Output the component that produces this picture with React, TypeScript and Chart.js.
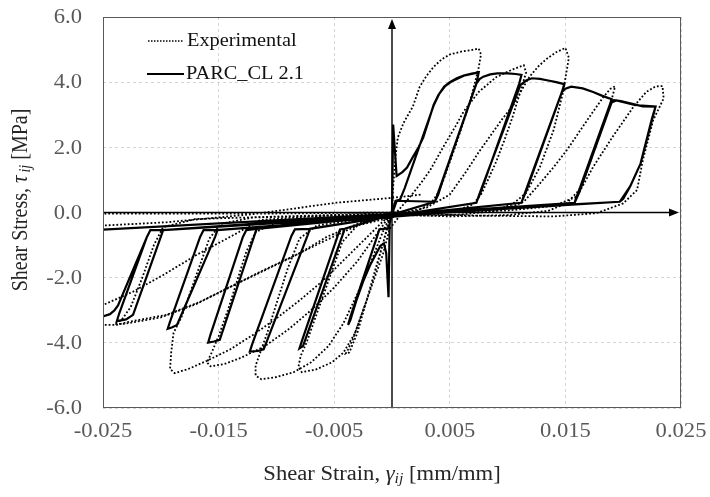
import React, { useEffect, useRef } from 'react';
import { Chart, registerables } from 'chart.js';

Chart.register(...registerables);

type Pt = [number, number];

// Axis ticks
const strainTicks = [-0.025, -0.015, -0.005, 0.005, 0.015, 0.025];
const stressTicks = [-6, -4, -2, 0, 2, 4, 6];
const seriesNames = ['Experimental', 'PARC_CL 2.1'];

// ---- PARC_CL 2.1 model response (strain, stress), one excursion pair per array ----
const modelCycle1: Pt[] = [
  [0, 0], [0.0001, 2.7], [0.0004, 1.12], [0.0009, 1.24], [0.0013, 1.38], [0.0018, 1.7], [0.0023, 2.0],
  [0.0027, 2.3], [0.0032, 2.85], [0.0036, 3.3], [0.004, 3.6], [0.0045, 3.86], [0.005, 4.0], [0.0056, 4.12],
  [0.0062, 4.2], [0.0069, 4.26], [0.0075, 4.3], [0.0073, 3.95], [0.0044, 1.0], [0.004, 0.55], [0.0037, 0.33],
  [0.0004, 0.36], [0.0001, 0.05], [-0.0002, -0.3], [-0.0003, -2.6], [-0.0005, -1.25], [-0.0007, -0.95],
  [-0.001, -1.02], [-0.0013, -1.22], [-0.0019, -1.62], [-0.0025, -2.12], [-0.0031, -2.72], [-0.0036, -3.3],
  [-0.0038, -3.45], [-0.0036, -3.2], [-0.0013, -0.75], [-0.0011, -0.52], [-0.0003, -0.48],
];
const modelCycle2: Pt[] = [
  [0.0003, 0.36], [0.0007, 0.4], [0.0011, 0.75], [0.0036, 3.28], [0.0041, 3.65], [0.0046, 3.88], [0.0052, 4.03],
  [0.0062, 4.2], [0.0075, 4.3], [0.0073, 3.95], [0.0044, 1.0], [0.004, 0.55], [0.0037, 0.33],
  [-0.0041, -0.5], [-0.0043, -0.72], [-0.0077, -4.1], [-0.008, -4.17], [-0.0078, -3.95], [-0.0047, -0.72],
  [-0.0045, -0.52], [-0.0041, -0.5],
];
const modelCycle3: Pt[] = [
  [0.0037, 0.33], [0.004, 0.62], [0.0073, 3.96], [0.0076, 4.1], [0.0079, 4.17], [0.0085, 4.24], [0.0091, 4.27],
  [0.01, 4.27], [0.0107, 4.25], [0.0112, 4.22], [0.011, 3.95], [0.0077, 0.65], [0.0074, 0.4], [0.0073, 0.3],
  [-0.0071, -0.5], [-0.0073, -0.7], [-0.0111, -4.2], [-0.0116, -4.25], [-0.0123, -4.27], [-0.0121, -4.05],
  [-0.0087, -0.72], [-0.0084, -0.52], [-0.0071, -0.5],
];
const modelCycle4: Pt[] = [
  [0.0073, 0.3], [0.0076, 0.6], [0.0111, 3.91], [0.0116, 4.05], [0.0121, 4.12], [0.0128, 4.1], [0.0134, 4.06],
  [0.0142, 4.0], [0.0149, 3.94], [0.0147, 3.7], [0.0116, 0.65], [0.0113, 0.4], [0.0112, 0.3],
  [-0.0117, -0.5], [-0.0119, -0.7], [-0.0149, -3.91], [-0.0154, -3.96], [-0.0159, -3.99], [-0.0157, -3.75],
  [-0.0129, -0.75], [-0.0126, -0.54], [-0.0117, -0.5],
];
const modelCycle5: Pt[] = [
  [0.0112, 0.3], [0.0115, 0.6], [0.0147, 3.7], [0.015, 3.8], [0.0155, 3.86], [0.0165, 3.81], [0.0174, 3.7],
  [0.0182, 3.58], [0.019, 3.48], [0.0188, 3.25], [0.0162, 0.7], [0.0159, 0.42], [0.0158, 0.3],
  [-0.0151, -0.54], [-0.0153, -0.75], [-0.0186, -3.45], [-0.019, -3.52], [-0.0194, -3.57], [-0.0192, -3.35],
  [-0.0166, -0.75], [-0.0163, -0.54], [-0.0151, -0.54],
];
const modelCycle6: Pt[] = [
  [0.0158, 0.3], [0.0161, 0.6], [0.0189, 3.36], [0.0192, 3.45], [0.0198, 3.42], [0.0206, 3.35], [0.0217, 3.26],
  [0.0228, 3.25], [0.0225, 2.9], [0.0215, 1.5], [0.0206, 0.8], [0.02, 0.42], [0.0197, 0.33],
  [-0.0198, -0.54], [-0.02, -0.75], [-0.0224, -3.14], [-0.023, -3.28], [-0.0238, -3.33], [-0.0236, -3.1],
  [-0.0212, -0.75], [-0.0209, -0.54], [-0.0198, -0.54],
];
const modelCycle7: Pt[] = [
  [0.0158, 0.3], [0.0162, 0.62], [0.019, 3.38], [0.0194, 3.44], [0.021, 3.3], [0.0228, 3.25], [0.0215, 1.5],
  [0.0206, 0.8], [0.0197, 0.33], [-0.0262, -0.55], [-0.0266, -0.8], [-0.0288, -3.0], [-0.0275, -3.2],
  [-0.0262, -3.24], [-0.0251, -3.2], [-0.0244, -3.12], [-0.024, -3.0], [-0.0237, -2.85], [-0.0212, -0.75],
  [-0.0209, -0.54], [-0.0198, -0.54], [0, -0.05],
];

// ---- Experimental response (strain, stress) ----
const expCycle1: Pt[] = [
  [0, 0], [0.0001, 0.8], [0.0003, 1.7], [0.0005, 2.3], [0.001, 2.75], [0.0018, 3.25], [0.0024, 3.86], [0.003, 4.2],
  [0.0036, 4.47], [0.0043, 4.7], [0.005, 4.85], [0.006, 4.94], [0.0068, 4.98], [0.0075, 5.03], [0.0077, 4.85],
  [0.0075, 4.45], [0.0069, 3.6], [0.0062, 2.8], [0.0055, 2.05], [0.0049, 1.45], [0.0044, 0.95], [0.0039, 0.55],
  [0.0033, 0.25], [0.0022, 0.06], [0.0008, -0.04], [-0.0002, -0.5], [-0.0008, -1.3], [-0.0015, -2.0],
  [-0.0022, -2.7], [-0.0029, -3.4], [-0.0034, -3.9], [-0.0038, -4.2], [-0.004, -4.33], [-0.0037, -4.3],
  [-0.003, -3.7], [-0.0024, -2.95], [-0.0018, -2.25], [-0.0012, -1.5], [-0.0007, -0.85], [-0.0003, -0.3],
  [0.0002, 0.0],
];
const expCycle2: Pt[] = [
  [0.0005, 0.05], [0.0015, 0.45], [0.0025, 0.9], [0.0033, 1.3], [0.0045, 2.05], [0.0055, 2.65], [0.0062, 3.1],
  [0.0075, 3.7], [0.009, 4.15], [0.0105, 4.4], [0.0114, 4.52], [0.0116, 4.3], [0.0111, 3.7], [0.0104, 2.9],
  [0.0097, 2.2], [0.009, 1.55], [0.0083, 1.0], [0.0077, 0.55], [0.007, 0.25], [0.0055, 0.05], [0.003, -0.05],
  [0.001, -0.06], [-0.003, -0.4], [-0.0043, -0.9], [-0.0052, -1.8], [-0.006, -2.6], [-0.0068, -3.4],
  [-0.0074, -4.0], [-0.0079, -4.4], [-0.0081, -4.75], [-0.0078, -4.9], [-0.0066, -4.82], [-0.0052, -4.6],
  [-0.0042, -4.3], [-0.0032, -3.7], [-0.0022, -2.7], [-0.0014, -1.7], [-0.0007, -0.85], [0, 0],
];
const expCycle3: Pt[] = [
  [0.001, 0.0], [0.003, 0.15], [0.005, 0.55], [0.0065, 1.3], [0.0075, 1.85], [0.0085, 2.35], [0.0095, 2.85],
  [0.0105, 3.3], [0.0112, 3.75], [0.0119, 4.17], [0.0127, 4.5], [0.0134, 4.72], [0.0142, 4.92], [0.015, 5.05],
  [0.0153, 4.75], [0.0148, 3.7], [0.014, 2.55], [0.0128, 1.4], [0.0116, 0.6], [0.0105, 0.28], [0.009, 0.05],
  [0.006, -0.06], [0.003, -0.1], [0, -0.06], [-0.0065, -0.4], [-0.008, -0.8], [-0.009, -1.7], [-0.01, -2.8],
  [-0.0108, -3.7], [-0.0114, -4.3], [-0.0118, -4.7], [-0.0118, -5.0], [-0.0113, -5.12], [-0.01, -5.05],
  [-0.0085, -4.9], [-0.007, -4.6], [-0.0055, -4.1], [-0.0042, -3.4], [-0.003, -2.5], [-0.0018, -1.5],
  [-0.0008, -0.6], [0, 0],
];
const expCycle4: Pt[] = [
  [0.003, -0.02], [0.008, 0.08], [0.0105, 0.2], [0.0114, 0.33], [0.0127, 0.85], [0.014, 1.4], [0.0152, 1.95],
  [0.0163, 2.53], [0.0174, 3.1], [0.0183, 3.55], [0.0189, 3.8], [0.0193, 3.87], [0.0191, 3.6], [0.0189, 3.35],
  [0.0182, 2.6], [0.0174, 1.82], [0.0167, 1.1], [0.0162, 0.69], [0.0151, 0.28], [0.0135, 0.05], [0.01, -0.08],
  [0.005, -0.12], [0, -0.06], [-0.01, -0.3], [-0.0118, -0.6], [-0.0126, -1.2], [-0.0134, -2.1], [-0.0142, -3.0],
  [-0.015, -3.8], [-0.0156, -4.3], [-0.016, -4.6], [-0.0157, -4.72], [-0.0145, -4.65], [-0.013, -4.45],
  [-0.011, -4.1], [-0.009, -3.6], [-0.007, -3.0], [-0.005, -2.3], [-0.003, -1.5], [-0.0012, -0.6], [0, 0],
];
const expCycle5: Pt[] = [
  [0.004, 0.0], [0.01, 0.06], [0.014, 0.2], [0.016, 0.49], [0.0174, 1.4], [0.0191, 2.33], [0.0209, 3.25],
  [0.022, 3.7], [0.0228, 3.87], [0.0234, 3.88], [0.0235, 3.5], [0.0226, 2.84], [0.0217, 1.61], [0.0212, 0.69],
  [0.02, 0.28], [0.0177, -0.02], [0.014, -0.12], [0.008, -0.1], [0.002, -0.05], [-0.012, -0.15],
  [-0.0148, -0.35], [-0.0158, -0.8], [-0.0166, -1.6], [-0.0174, -2.4], [-0.0182, -3.2], [-0.0189, -3.7],
  [-0.0191, -4.3], [-0.0192, -4.8], [-0.0188, -4.93], [-0.0176, -4.8], [-0.016, -4.55], [-0.014, -4.2],
  [-0.012, -3.75], [-0.01, -3.25], [-0.008, -2.7], [-0.006, -2.1], [-0.004, -1.4], [-0.002, -0.7], [0, 0],
];
const expCycle6: Pt[] = [
  [0, -0.02], [-0.017, -0.2], [-0.0198, -0.45], [-0.0206, -1.0], [-0.0216, -2.0], [-0.0226, -2.9],
  [-0.0234, -3.3], [-0.024, -3.42], [-0.0232, -3.42], [-0.02, -3.22], [-0.017, -2.82], [-0.0135, -2.2],
  [-0.01, -1.6], [-0.006, -0.9], [-0.003, -0.4], [0, 0],
];
const expCycle7: Pt[] = [
  [0, -0.02], [-0.006, -0.1], [-0.0114, -0.23], [-0.0137, -0.69], [-0.0169, -1.3], [-0.0198, -1.92],
  [-0.0224, -2.43], [-0.025, -2.84], [-0.027, -3.2], [-0.0268, -3.45], [-0.025, -3.45], [-0.0238, -3.45],
  [-0.0227, -3.35], [-0.0195, -3.14], [-0.0166, -2.74], [-0.0131, -2.12], [-0.0114, -1.82], [-0.008, -1.25],
  [-0.0056, -0.74], [-0.003, -0.35], [0, 0], [-0.01, -0.03], [-0.02, -0.03], [-0.027, -0.03],
  [-0.0275, -0.45], [-0.025, -0.4], [-0.0195, -0.3], [-0.012, -0.05], [-0.0048, 0.3], [0, 0.45], [0.0025, 0.55],
];

const modelPath: Pt[] = [
  ...modelCycle1, ...modelCycle2, ...modelCycle3, ...modelCycle4, ...modelCycle5, ...modelCycle6, ...modelCycle7,
];
const expPath: Pt[] = [
  ...expCycle1, ...expCycle2, ...expCycle3, ...expCycle4, ...expCycle5, ...expCycle6, ...expCycle7,
];

const SERIF = '"Liberation Serif", "Times New Roman", serif';
const STRETCH = 1.13;

type Part = { text: string; font: string; dy?: number };

function richText(
  ctx: CanvasRenderingContext2D, parts: Part[], cx: number, cy: number, rotated: boolean, color: string,
) {
  ctx.save();
  ctx.translate(cx, cy);
  if (rotated) {
    ctx.rotate(-Math.PI / 2);
    ctx.scale(1, STRETCH);
  } else {
    ctx.scale(STRETCH, 1);
  }
  ctx.fillStyle = color;
  ctx.textBaseline = 'middle';
  ctx.textAlign = 'left';
  let total = 0;
  parts.forEach((p) => {
    ctx.font = p.font;
    total += ctx.measureText(p.text).width;
  });
  let x = -total / 2;
  parts.forEach((p) => {
    ctx.font = p.font;
    ctx.fillText(p.text, x, p.dy || 0);
    x += ctx.measureText(p.text).width;
  });
  ctx.restore();
}

function plainText(
  ctx: CanvasRenderingContext2D, text: string, x: number, y: number, align: CanvasTextAlign,
  font: string, color: string,
) {
  ctx.save();
  ctx.translate(x, y);
  ctx.scale(STRETCH, 1);
  ctx.font = font;
  ctx.fillStyle = color;
  ctx.textAlign = align;
  ctx.textBaseline = 'middle';
  ctx.fillText(text, 0, 0);
  ctx.restore();
}

const axesAndLabels = {
  id: 'axesAndLabels',
  beforeDatasetsDraw(chart: any) {
    const { ctx, chartArea: a, scales } = chart;
    const x0 = scales.x.getPixelForValue(0);
    const y0 = scales.y.getPixelForValue(0);
    ctx.save();
    ctx.strokeStyle = '#000';
    ctx.fillStyle = '#000';
    ctx.lineWidth = 1.4;
    ctx.beginPath();
    ctx.moveTo(x0, a.bottom);
    ctx.lineTo(x0, a.top + 6);
    ctx.moveTo(a.left, y0);
    ctx.lineTo(a.right - 6, y0);
    ctx.stroke();
    // arrow heads
    ctx.beginPath();
    ctx.moveTo(x0, a.top + 2);
    ctx.lineTo(x0 - 4, a.top + 12);
    ctx.lineTo(x0 + 4, a.top + 12);
    ctx.closePath();
    ctx.fill();
    ctx.beginPath();
    ctx.moveTo(a.right - 2, y0);
    ctx.lineTo(a.right - 12, y0 - 4);
    ctx.lineTo(a.right - 12, y0 + 4);
    ctx.closePath();
    ctx.fill();
    ctx.restore();
  },
  afterDraw(chart: any) {
    const { ctx, chartArea: a, scales } = chart;
    ctx.save();
    // plot frame
    ctx.strokeStyle = '#595959';
    ctx.lineWidth = 1;
    ctx.strokeRect(a.left + 0.5, a.top + 0.5, a.right - a.left - 1, a.bottom - a.top - 1);

    // tick labels
    const tickFont = `20px ${SERIF}`;
    scales.y.ticks.forEach((t: any) => {
      const py = scales.y.getPixelForValue(t.value);
      plainText(ctx, t.value.toFixed(1), a.left - 21, py + 1, 'right', tickFont, '#595959');
    });
    scales.x.ticks.forEach((t: any) => {
      const px = scales.x.getPixelForValue(t.value);
      plainText(ctx, t.value.toFixed(3), px, a.bottom + 24, 'center', tickFont, '#595959');
    });

    // axis titles
    richText(ctx, [
      { text: 'Shear Strain, ', font: `20px ${SERIF}` },
      { text: 'γ', font: `italic 20px ${SERIF}` },
      { text: 'ij', font: `italic 14px ${SERIF}`, dy: 4 },
      { text: ' [mm/mm]', font: `20px ${SERIF}` },
    ], (a.left + a.right) / 2 - 10, a.bottom + 67, false, '#262626');
    richText(ctx, [
      { text: 'Shear Stress, ', font: `20px ${SERIF}` },
      { text: 'τ', font: `italic 21px ${SERIF}` },
      { text: ' ', font: `12px ${SERIF}` },
      { text: 'ij', font: `italic 14px ${SERIF}`, dy: 4 },
      { text: ' [MPa]', font: `20px ${SERIF}` },
    ], 21, 200, true, '#262626');

    // legend
    const names = chart.data.datasets.map((d: any) => d.label);
    ctx.strokeStyle = '#000';
    ctx.lineWidth = 1.3;
    ctx.setLineDash([1.5, 1.5]);
    ctx.beginPath();
    ctx.moveTo(148, 41);
    ctx.lineTo(183, 41);
    ctx.stroke();
    ctx.setLineDash([]);
    ctx.lineWidth = 2;
    ctx.beginPath();
    ctx.moveTo(147, 74);
    ctx.lineTo(184, 74);
    ctx.stroke();
    plainText(ctx, names[0], 187, 41, 'left', `18px ${SERIF}`, '#111');
    plainText(ctx, names[1], 186, 74, 'left', `18px ${SERIF}`, '#111');
    ctx.restore();
  },
};

export default function App() {
  const canvasRef = useRef<HTMLCanvasElement | null>(null);

  useEffect(() => {
    if (!canvasRef.current) return;
    const toXY = (pts: Pt[]) => pts.map(([x, y]) => ({ x, y }));
    const chart = new Chart(canvasRef.current, {
      type: 'scatter',
      data: {
        datasets: [
          {
            label: seriesNames[0],
            data: toXY(expPath),
            showLine: true,
            borderColor: '#000',
            borderWidth: 1.8,
            borderDash: [1.8, 2],
            pointRadius: 0,
            tension: 0,
            fill: false,
          },
          {
            label: seriesNames[1],
            data: toXY(modelPath),
            showLine: true,
            borderColor: '#000',
            borderWidth: 2.2,
            pointRadius: 0,
            tension: 0,
            fill: false,
          },
        ],
      },
      options: {
        animation: false,
        responsive: false,
        events: [],
        layout: { padding: { left: 103, right: 29, top: 17, bottom: 89 } },
        plugins: { legend: { display: false }, tooltip: { enabled: false }, title: { display: false } },
        scales: {
          x: {
            type: 'linear',
            min: -0.025,
            max: 0.025,
            afterBuildTicks: (axis: any) => {
              axis.ticks = strainTicks.map((v) => ({ value: v }));
            },
            ticks: { display: false },
            grid: { color: '#d4d4d4', lineWidth: 1, drawTicks: false },
            border: { display: false, dash: [3, 3] },
          },
          y: {
            type: 'linear',
            min: -6,
            max: 6,
            afterBuildTicks: (axis: any) => {
              axis.ticks = stressTicks.map((v) => ({ value: v }));
            },
            ticks: { display: false },
            grid: { color: '#d4d4d4', lineWidth: 1, drawTicks: false },
            border: { display: false, dash: [3, 3] },
          },
        },
      },
      plugins: [axesAndLabels],
    });
    return () => chart.destroy();
  }, []);

  return (
    <div style={{ position: 'fixed', left: 0, top: 0, width: 710, height: 497, background: '#fff' }}>
      <canvas ref={canvasRef} width={710} height={497} style={{ display: 'block' }} />
    </div>
  );
}
